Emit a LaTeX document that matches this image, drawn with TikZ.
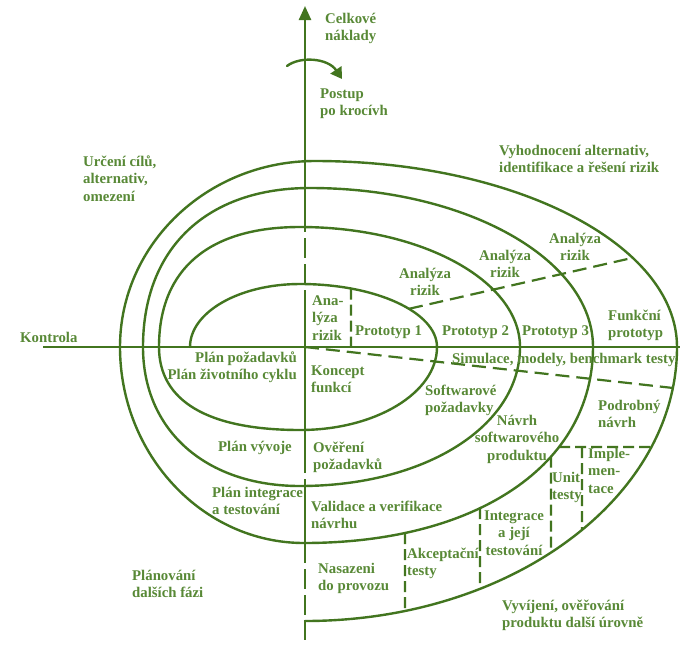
\documentclass[tikz,border=0pt]{standalone}
\usepackage{fontspec}
\setmainfont{Liberation Serif}
\usetikzlibrary{arrows.meta,intersections}

\definecolor{linegreen}{RGB}{66,117,31}
\definecolor{textgreen}{RGB}{88,137,54}

\newcommand{\lblfont}{\fontsize{14.8}{17.5}\selectfont\bfseries}
\newcommand{\stackL}[1]{\begin{tabular}[t]{@{}l@{}}#1\end{tabular}}
\newcommand{\stackC}[1]{\begin{tabular}[t]{@{}c@{}}#1\end{tabular}}
\newcommand{\stackR}[1]{\begin{tabular}[t]{@{}r@{}}#1\end{tabular}}

\tikzset{
  curve/.style={draw=linegreen, line width=2.4pt, line cap=round, line join=round},
  axisline/.style={draw=linegreen, line width=2.4pt},
  longdash/.style={draw=linegreen, line width=2.2pt, dash pattern=on 14pt off 7pt},
  shortdash/.style={draw=linegreen, line width=2.2pt, dash pattern=on 11pt off 5pt},
  axisdash/.style={draw=linegreen, line width=2.4pt, dash pattern=on 20pt off 6pt},
  lbl/.style={anchor=base west, inner sep=0pt, text=textgreen, font=\lblfont},
  lblc/.style={lbl, anchor=base},
  lblr/.style={lbl, anchor=base east},
}

\begin{document}
\begin{tikzpicture}[x=1pt,y=-1pt]
\useasboundingbox (0,0) rectangle (680,646);
\fill[white] (0,0) rectangle (680,646);

% ---- the spiral, from the centre outwards ----
\draw[curve] (190,347) .. controls (190,312.2) and (239.2,284) .. (300,284)
  .. controls (375.7,284) and (437,312.2) .. (437,347)
  .. controls (437,392.8) and (375.7,430) .. (300,430)
  .. controls (207.7,430) and (159,401) .. (159,347)
  .. controls (159,269) and (209,227) .. (300,227)
  .. controls (421.5,227) and (520,280.7) .. (520,347)
  .. controls (520,426.2) and (425.4,486) .. (300,486)
  .. controls (205.8,486) and (143,430.4) .. (143,347)
  .. controls (143,248.4) and (206.5,188) .. (310,188)
  .. controls (466.3,188) and (593,259.2) .. (593,347)
  .. controls (593,464.6) and (477.4,543) .. (304,543)
  .. controls (202.8,543) and (120,454.8) .. (120,347)
  .. controls (120,244.3) and (207.3,161) .. (315,161)
  .. controls (514.9,161) and (677,244.3) .. (677,347)
  .. controls (677,498.3) and (510.5,621) .. (305,621);

% quarters of the spiral used to cut the dashed dividers
\path[name path=t1r] (300,284) .. controls (375.7,284) and (437,312.2) .. (437,347);
\path[name path=t4r] (315,161) .. controls (514.9,161) and (677,244.3) .. (677,347);
\path[name path=b3r] (593,347) .. controls (593,464.6) and (477.4,543) .. (304,543);
\path[name path=b4r] (677,347) .. controls (677,498.3) and (510.5,621) .. (305,621);

% ---- axes ----
\coordinate (hl) at (43,347);
\coordinate (hr) at (680,347);
\draw[axisline] (hl) -- (hr);
\coordinate (vtop) at (305,6);
\draw[axisline, -{Triangle[length=14pt,width=12pt]}] (305,212) -- (vtop);
\draw[axisdash] (305,212) -- (305,290);
\draw[axisline] (305,290) -- (305,453);
\draw[axisdash] (305,453) -- (305,483);
\draw[axisline] (305,483) -- (305,543);
\draw[axisdash] (305,543) -- (305,620);
\draw[axisline] (305,620) -- (305,640);

% turning arrow
\coordinate (ta) at (287,66);
\coordinate (tb) at (342,79);
\draw[curve, -{Triangle[length=11pt,width=13pt]}] (ta) .. controls (300,56) and (328,58) .. (tb);

% ---- dashed dividers ----
\path[name path=hD1] (395,312) -- (645,255);
\path[name intersections={of=t1r and hD1, by=d1a}];
\path[name intersections={of=t4r and hD1, by=d1b}];
\draw[longdash] (d1a) -- (d1b);

\path[name path=hD2] (351,340) -- (351,270);
\path[name intersections={of=t1r and hD2, by=d2a}];
\coordinate (d2b) at (351,347);
\draw[shortdash] (d2a) -- (d2b);

\coordinate (d3a) at (305,347);
\path[name path=hD3] (305,347) -- (700,391);
\path[name intersections={of=b4r and hD3, by=d3b}];
\draw[longdash] (d3a) -- (d3b);

\path[name path=hD4] (530,447) -- (690,447);
\path[name intersections={of=b3r and hD4, by=d4a}];
\path[name intersections={of=b4r and hD4, by=d4b}];
\draw[shortdash] (d4a) -- (d4b);

\coordinate (d5a) at (582,447);
\path[name path=hD5] (582,447) -- (582,600);
\path[name intersections={of=b4r and hD5, by=d5b}];
\draw[shortdash] (d5a) -- (d5b);

\foreach \xx/\nm in {551/d6, 480/d7, 405/d8}{
  \path[name path=hv] (\xx,400) -- (\xx,646);
  \path[name intersections={of=b3r and hv, by=\nm a}];
  \path[name intersections={of=b4r and hv, by=\nm b}];
  \draw[shortdash] (\nm a) -- (\nm b);
}

% ---- labels ----
\node[lbl] (costs) at (325,23) {\stackL{Celkové\\náklady}};
\node[lbl] (steps) at (320,98) {\stackL{Postup\\po krocívh}};
\node[lbl] (goals) at (83,166) {\stackL{Určení cílů,\\alternativ,\\omezení}};
\node[lbl] (evalq) at (499,155) {\stackL{Vyhodnocení alternativ,\\identifikace a řešení rizik}};
\node[lbl] (review) at (20,342) {Kontrola};
\node[lbl] (risk0) at (312,305) {\stackL{Ana-\\lýza\\rizik}};
\node[lbl] (proto1) at (355,335) {Prototyp 1};
\node[lbl] (proto2) at (442,335) {Prototyp 2};
\node[lbl] (proto3) at (522,335) {Prototyp 3};
\node[lbl] (protof) at (608,320) {\stackL{Funkční\\prototyp}};
\node[lblc] (risk1) at (425,278) {\stackC{Analýza\\rizik}};
\node[lblc] (risk2) at (505,260) {\stackC{Analýza\\rizik}};
\node[lblc] (risk3) at (575,243) {\stackC{Analýza\\rizik}};
\node[lbl] (sim) at (452,363) {Simulace, modely, benchmark testy};
\node[lblr] (plans) at (297,362) {\stackR{Plán požadavků\\Plán životního cyklu}};
\node[lbl] (concept) at (311,375) {\stackL{Koncept\\funkcí}};
\node[lbl] (devplan) at (218,451) {Plán vývoje};
\node[lbl] (reqval) at (313,452) {\stackL{Ověření\\požadavků}};
\node[lbl] (intplan) at (212,497) {\stackL{Plán integrace\\a testování}};
\node[lbl] (desval) at (311,511) {\stackL{Validace a verifikace\\návrhu}};
\node[lbl] (swreq) at (425,395) {\stackL{Softwarové\\požadavky}};
\node[lblc] (prodd) at (517,425) {\stackC{Návrh\\softwarového\\produktu}};
\node[lbl] (detd) at (598,410) {\stackL{Podrobný\\návrh}};
\node[lbl] (unit) at (552,482) {\stackL{Unit\\testy}};
\node[lbl] (impl) at (588,458) {\stackL{Imple-\\men-\\tace}};
\node[lblc] (integ) at (514,520) {\stackC{Integrace\\a její\\testování}};
\node[lbl] (accept) at (407,558) {\stackL{Akceptační\\testy}};
\node[lbl] (deploy) at (318,573) {\stackL{Nasazeni\\do provozu}};
\node[lbl] (next) at (132,580) {\stackL{Plánování\\dalších fázi}};
\node[lbl] (build) at (502,610) {\stackL{Vyvíjení, ověřování\\produktu další úrovně}};
\end{tikzpicture}
\end{document}
